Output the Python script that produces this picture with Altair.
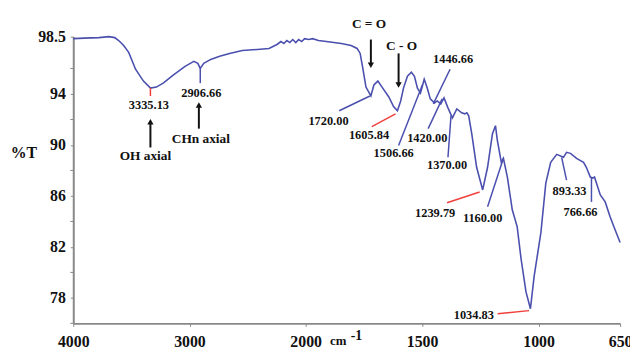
import altair as alt
import pandas as pd

# ---- FTIR spectrum ----
WAVENUMBER = [4000, 3906, 3779, 3694, 3643, 3609, 3566, 3523, 3464, 3396, 3335, 3285, 3226, 3140,
              3038, 2962, 2928, 2907, 2877, 2817, 2740, 2655, 2545, 2417, 2315, 2247, 2213, 2187,
              2162, 2136, 2111, 2085, 2060, 2034, 2009, 1987, 1970, 1945, 1911, 1847, 1805, 1779,
              1766, 1754, 1741, 1720, 1707, 1690, 1669, 1643, 1622, 1606, 1592, 1580, 1563, 1546,
              1533, 1520, 1507, 1500, 1491, 1478, 1465, 1447, 1435, 1420, 1406, 1389, 1370, 1351,
              1330, 1317, 1308, 1300, 1287, 1266, 1240, 1219, 1198, 1185, 1177, 1160, 1151, 1134,
              1113, 1092, 1075, 1054, 1035, 1019, 990, 969, 948, 922, 893, 880, 863, 837, 807, 795,
              778, 767, 760, 735, 714, 693, 672, 650]
TRANSMITTANCE = [98.34, 98.38, 98.42, 98.5, 98.42, 98.19, 97.80, 97.26, 95.94, 95.01, 94.46, 94.54,
                 94.85, 95.47, 96.17, 96.56, 96.40, 96.01, 96.40, 96.71, 96.95, 97.18, 97.41, 97.49,
                 97.57, 97.88, 98.11, 97.96, 98.19, 98.03, 98.27, 98.03, 98.27, 98.11, 98.34, 98.27,
                 98.34, 98.19, 98.11, 97.96, 97.80, 97.57, 97.18, 95.94, 94.54, 93.84, 94.70, 95.01,
                 94.46, 93.76, 92.99, 92.68, 93.45, 94.46, 95.39, 95.70, 95.39, 94.46, 94.07, 94.54,
                 95.16, 94.46, 93.61, 93.30, 93.45, 93.22, 93.69, 92.91, 92.13, 92.83, 92.52, 92.44,
                 92.52, 92.29, 90.89, 88.25, 86.47, 88.25, 90.89, 91.51, 90.35, 88.64, 88.95, 87.48,
                 84.91, 83.59, 81.03, 78.47, 77.15, 79.71, 83.13, 87.01, 88.64, 89.26, 89.03, 89.42,
                 89.34, 88.95, 88.64, 88.25, 87.48, 87.40, 87.48, 86.08, 85.53, 84.37, 83.36, 82.35]
assert len(WAVENUMBER) == len(TRANSMITTANCE)

# ---- axis ticks ----
X_TICKS = [4000, 3000, 2000, 1500, 1000, 650]
Y_LABELLED = [98.5, 94, 90, 86, 82, 78]
Y_MINOR = [96, 92, 88, 84, 80, 76]

# ---- peak labels ----
PEAK_TEXT = ["3335.13", "2906.66", "1720.00", "1605.84", "1506.66", "1446.66", "1420.00",
             "1370.00", "1239.79", "1160.00", "1034.83", "893.33", "766.66"]
PEAK_TX = [3349, 2898, 1902, 1728, 1622, 1367, 1478, 1393, 1444, 1240, 1278, 867, 820]
PEAK_TY = [93.14, 94.04, 91.90, 90.74, 89.34, 96.71, 90.58, 88.41, 84.68, 84.29, 76.68, 86.39, 84.76]

# ---- group labels ----
GROUP_TEXT = ["OH axial", "CHn axial", "C = O", "C - O"]
GROUP_TX = [3379, 2902, 1728, 1588]
GROUP_TY = [89.11, 90.43, 99.51, 97.72]

# ---- pointer lines (blue / red) ----
PTR_X1 = [2907, 1856, 1601, 1380, 1474, 1389, 1219, 880, 773, 3336, 1716, 1393, 1176]
PTR_Y1 = [96.01, 92.68, 89.96, 95.94, 91.28, 89.03, 85.15, 87.24, 87.40, 94.46, 91.43, 85.46, 76.76]
PTR_X2 = [2907, 1724, 1499, 1452, 1414, 1376, 1151, 901, 773, 3336, 1614, 1253, 1041]
PTR_Y2 = [94.85, 93.84, 94.70, 93.22, 93.61, 92.29, 88.95, 89.03, 85.53, 93.84, 92.44, 86.31, 77.00]
PTR_KIND = ["blue"] * 9 + ["red"] * 4

# ---- arrows ----
ARR_X = [3336, 2919, 1720, 1601]
ARR_Y1 = [89.80, 91.28, 98.27, 97.18]
ARR_Y2 = [91.75, 93.05, 96.33, 94.78]
ARR_HEAD_Y = [91.82, 93.14, 96.25, 94.70]
ARR_SHAPE = ["triangle-up", "triangle-up", "triangle-down", "triangle-down"]

BLUE = "#4b50ae"
RED = "#f0403c"
FONT = "Liberation Serif"

xs = alt.Scale(domain=[4000, 2000, 650], range=[0, 235, 553], nice=False, zero=False)
ys = alt.Scale(domain=[76, 98.5], nice=False, zero=False)

spec = pd.DataFrame({"wn": WAVENUMBER, "t": TRANSMITTANCE})
line = alt.Chart(spec).mark_line(color=BLUE, strokeWidth=1.6).encode(
    x=alt.X("wn:Q", scale=xs,
            axis=alt.Axis(values=X_TICKS, format="d", title=None, grid=False,
                          labelFont=FONT, labelFontSize=16, labelFontWeight="bold",
                          labelColor="#111", labelPadding=7, tickSize=3, tickColor="#888",
                          domainColor="#888", domainWidth=2, labelFlush=False,
                          labelOverlap=False)),
    y=alt.Y("t:Q", scale=ys,
            axis=alt.Axis(values=Y_LABELLED, format=".4~g", title=None, grid=False,
                          labelFont=FONT, labelFontSize=16, labelFontWeight="bold",
                          labelColor="#111", labelPadding=5, tickSize=3, tickColor="#888",
                          domainColor="#888", domainWidth=2, labelOverlap=False,
                          labelFlush=False)),
    order=alt.Order("wn:Q", sort="descending"),
)

minor = alt.Chart(pd.DataFrame({"t": Y_MINOR})).mark_rule(color="#888", strokeWidth=1).encode(
    x=alt.value(-3), x2=alt.value(0), y=alt.Y("t:Q", scale=ys))

ptr = pd.DataFrame({"x1": PTR_X1, "y1": PTR_Y1, "x2": PTR_X2, "y2": PTR_Y2, "kind": PTR_KIND})
pointers = alt.Chart(ptr).mark_rule(strokeWidth=1.5).encode(
    x=alt.X("x1:Q", scale=xs), y=alt.Y("y1:Q", scale=ys), x2="x2:Q", y2="y2:Q",
    color=alt.Color("kind:N", scale=alt.Scale(domain=["blue", "red"], range=[BLUE, RED]), legend=None),
)

arr = pd.DataFrame({"x": ARR_X, "y1": ARR_Y1, "y2": ARR_Y2, "hy": ARR_HEAD_Y, "shape": ARR_SHAPE})
shafts = alt.Chart(arr).mark_rule(color="#111", strokeWidth=2).encode(
    x=alt.X("x:Q", scale=xs), y=alt.Y("y1:Q", scale=ys), y2="y2:Q")
heads = alt.Chart(arr).mark_point(filled=True, color="#111", size=40, opacity=1).encode(
    x=alt.X("x:Q", scale=xs), y=alt.Y("hy:Q", scale=ys),
    shape=alt.Shape("shape:N", scale=None))

pk = pd.DataFrame({"label": PEAK_TEXT, "x": PEAK_TX, "y": PEAK_TY})
peak_labels = alt.Chart(pk).mark_text(font=FONT, fontSize=12.5, fontWeight="bold", color="#111").encode(
    x=alt.X("x:Q", scale=xs), y=alt.Y("y:Q", scale=ys), text="label:N")

gp = pd.DataFrame({"label": GROUP_TEXT, "x": GROUP_TX, "y": GROUP_TY})
group_labels = alt.Chart(gp).mark_text(font=FONT, fontSize=13.5, fontWeight="bold", color="#111").encode(
    x=alt.X("x:Q", scale=xs), y=alt.Y("y:Q", scale=ys), text="label:N")

ttl = pd.DataFrame({"label": ["%T", "cm", "-1"], "x": [4425, 1860, 1782], "y": [89.34, 74.6, 75.0],
                    "fs": [16, 13, 14]})
titles = alt.Chart(ttl).mark_text(font=FONT, fontWeight="bold", color="#111").encode(
    x=alt.X("x:Q", scale=xs), y=alt.Y("y:Q", scale=ys), text="label:N",
    size=alt.Size("fs:Q", scale=None, legend=None))

chart = alt.layer(line, minor, pointers, shafts, heads, peak_labels, group_labels, titles).properties(
    width=553, height=290,
    autosize=alt.AutoSizeParams(type="none"),
    padding={"left": 66, "top": 27, "right": 10, "bottom": 25},
    background="white",
).configure_view(stroke=None)

chart.save("out.html", embed_options={"renderer": "svg", "actions": False})
